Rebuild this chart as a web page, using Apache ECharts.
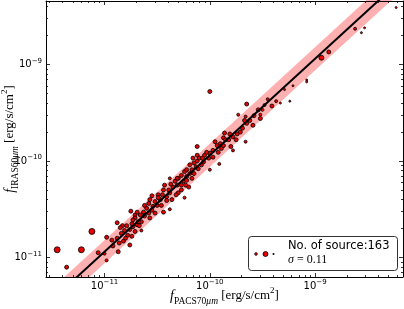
<!DOCTYPE html>
<html><head><meta charset="utf-8">
<script src="https://cdn.jsdelivr.net/npm/echarts@6/dist/echarts.min.js"></script>
<style>html,body{margin:0;padding:0;background:#fff}#c{width:404px;height:309px}</style>
</head><body><div id="c"></div>
<script>
// log10 of flux [erg/s/cm^2]
const logPACS = [
-11.45,-11.36,-11.22,-11.12,-11.06,-10.98,-11.00,-10.98,-10.88,-10.87,-10.83,-10.75,-10.71,-10.81,-10.78,-10.84,-10.82,-10.76,-10.73,-10.74,
-10.71,-10.76,-10.88,-10.71,-10.74,-10.69,-10.65,-10.66,-10.63,-10.65,-10.60,-10.62,-10.58,-10.55,-10.54,-10.58,-10.57,-10.52,-10.50,-10.49,
-10.47,-10.44,-10.43,-10.44,-10.38,-10.41,-10.39,-10.38,-10.35,-10.38,-10.31,-10.30,-10.30,-10.27,-10.25,-10.27,-10.24,-10.24,-10.22,-10.20,
-10.19,-10.17,-10.13,-10.12,-10.12,-10.12,-10.00,-9.65,-9.73,-9.54,-9.62,-9.59,-9.65,-9.66,-9.69,-9.71,-9.74,-9.78,-9.78,-9.80,
-9.82,-9.86,-9.87,-9.89,-9.90,-9.93,-9.95,-9.97,-10.00,-9.97,-10.01,-10.05,-10.06,-10.08,-10.00,-9.91,-10.11,-10.15,-10.19,-10.17,
-10.31,-10.22,-10.10,-10.16,-9.08,-9.08,-9.21,-9.29,-9.24,-9.33,-9.37,-9.45,-9.41,-9.48,-9.50,-9.66,-9.52,-9.52,-8.23,-8.53,
-8.56,-8.62,-8.87,-8.94,-10.68,-10.49,-10.46,-10.55,-10.37,-10.22,-10.03,-10.62,-10.67,-10.79,-10.80,-10.86,-10.92,-10.57,-10.52,-10.36,
-10.32,-10.23,-10.15,-9.92,-9.87,-9.75,-9.67,-10.73,-10.85,-10.93,-10.69,-10.45,-10.41,-10.33,-10.27,-10.07,-9.85,-9.81,-9.58
];
const logIRAS = [
-10.92,-11.10,-10.92,-10.73,-10.95,-10.79,-10.96,-11.03,-10.64,-10.94,-10.67,-10.52,-10.56,-10.72,-10.77,-10.75,-10.83,-10.71,-10.68,-10.78,
-10.73,-10.87,-10.80,-10.59,-10.65,-10.66,-10.63,-10.56,-10.53,-10.72,-10.49,-10.46,-10.54,-10.51,-10.47,-10.44,-10.40,-10.42,-10.46,-10.35,
-10.40,-10.30,-10.25,-10.53,-10.50,-10.37,-10.30,-10.33,-10.27,-10.18,-10.25,-10.18,-10.33,-10.15,-10.21,-10.30,-10.38,-10.11,-10.16,-10.27,
-10.13,-10.18,-10.06,-10.00,-9.94,-9.85,-9.28,-9.41,-9.52,-9.47,-9.58,-9.63,-9.61,-9.80,-9.66,-9.70,-9.72,-9.75,-9.89,-9.85,
-9.78,-9.71,-9.76,-9.87,-9.82,-9.84,-9.80,-9.89,-9.92,-9.96,-9.97,-9.94,-10.01,-10.04,-10.09,-10.03,-10.08,-10.02,-10.04,-10.09,
-10.18,-10.20,-9.97,-9.97,-9.16,-9.18,-9.22,-9.26,-9.38,-9.40,-9.38,-9.36,-9.43,-9.42,-9.47,-9.54,-9.52,-9.56,-8.41,-8.62,
-8.67,-8.63,-8.87,-8.93,-10.63,-10.38,-10.46,-10.36,-10.24,-10.09,-9.91,-10.57,-10.67,-10.67,-10.80,-10.85,-10.88,-10.59,-10.54,-10.40,
-10.35,-10.25,-10.13,-9.91,-9.84,-9.78,-9.58,-10.61,-10.69,-10.82,-10.53,-10.35,-10.41,-10.21,-10.25,-9.97,-9.78,-9.72,-9.53
];
// marker weight (relative marker size class)
const weight = [
3,2,3,3,2,2,1.5,1.5,2,2,2,2,2,2,2,2,2,2,2,2,
2,2,2,2,2,2,2,2,2,1.5,2,2,2,2,2,2,2,2,2,2,
2,2,2,2,1.5,2,2,2,2,1.5,2,2,2,2,2,2,1.5,2,2,2,
2,2,2,2,2,2,2,2,1.5,2,2,2,2,1.5,2,2,2,2,1.5,2,
2,2,2,2,2,2,2,2,2,2,2,2,2,2,1.5,1.5,2,2,2,2,
2,2,2,2,1,1,1,1,1,1,1.5,1.5,2,1.5,1.5,1.5,1.5,2,1,1,
1,1.5,2,2.5,2,2,2,2,2,2,2,2,2,2,2,2,2,2,2,2,
2,2,2,2,2,2,2,2,2,2,2,2,2,2,2,2,2,2,2
];
const tickExp = [-11, -10, -9];
const fitSlope = 1.0;
const fitIntercept = 0.06;
const sigma = 0.11;
const bandHalf = 0.12;
const nSource = 163;

const X_MIN = -11.556, X_MAX = -8.165;
const Y_MIN = -11.202, Y_MAX = -8.342;

function minors(lo, hi) {
  const out = [];
  for (let d = -13; d <= -7; d++) for (let k = 2; k <= 9; k++) {
    const v = d + Math.log10(k);
    if (v > lo && v < hi) out.push(v);
  }
  return out;
}
const SANS = '"DejaVu Sans", sans-serif';
const SERIF = '"Liberation Serif", serif';
const tickRich = {
  b: {fontSize: 10, fontFamily: SANS, color: '#000', lineHeight: 14, verticalAlign: 'middle'},
  s: {fontSize: 7, fontFamily: SANS, color: '#000', lineHeight: 7, verticalAlign: 'top'}
};
const fmt = v => '{b|10}{s|\u2212' + Math.abs(Math.round(v)) + '}';
const nameRich = {
  i: {fontFamily: SERIF, fontStyle: 'italic', fontSize: 14, lineHeight: 20, verticalAlign: 'middle', color: '#000', fill: '#000'},
  sub: {fontFamily: SERIF, fontSize: 9.5, lineHeight: 12, verticalAlign: 'bottom', color: '#000', fill: '#000'},
  subi: {fontFamily: SERIF, fontStyle: 'italic', fontSize: 9.5, lineHeight: 12, verticalAlign: 'bottom', color: '#000', fill: '#000'},
  r: {fontFamily: SERIF, fontSize: 13, lineHeight: 20, verticalAlign: 'middle', color: '#000', fill: '#000'},
  sup: {fontFamily: SERIF, fontSize: 9, lineHeight: 10, verticalAlign: 'top', color: '#000', fill: '#000'}
};
function axis(dim, position, major, extra) {
  const lo = dim === 'x' ? X_MIN : Y_MIN, hi = dim === 'x' ? X_MAX : Y_MAX;
  const vals = major ? tickExp.filter(v => v > lo && v < hi) : minors(lo, hi);
  return Object.assign({
    type: 'value', position, min: lo, max: hi, z: 10,
    axisLine: {show: major, onZero: false, lineStyle: {color: '#000', width: 1}},
    axisTick: {show: true, inside: true, length: major ? 4 : 2, customValues: vals, lineStyle: {color: '#000', width: 0.8}},
    axisLabel: {show: false},
    splitLine: {show: false}
  }, extra || {});
}
const xLabel = {show: true, customValues: tickExp, formatter: fmt, rich: tickRich, margin: 2};
const yLabel = {show: true, customValues: tickExp, formatter: fmt, rich: tickRich, margin: 4};

const scatterData = logPACS.map((x, i) => [x, logIRAS[i], weight[i]]);
const fx = [X_MIN - 0.5, X_MAX + 0.5];
const fitLine = fx.map(x => [x, fitSlope * x + fitIntercept]);
const bandHigh = fx.map(x => [x, fitSlope * x + fitIntercept + bandHalf]);
const bandLow = fx.map(x => [x, fitSlope * x + fitIntercept - bandHalf]);

const chart = echarts.init(document.getElementById('c'), null, {renderer: 'canvas'});
chart.setOption({
  animation: false,
  grid: {left: 46, right: 1, top: 1, bottom: 32, containLabel: false, outerBoundsMode: 'none'},
  xAxis: [
    axis('x', 'bottom', true, {axisLabel: xLabel, name: '{i|f}{sub|PACS70}{subi|\u03bcm}{r| [erg/s/cm}{sup|2}{r|]}',
      nameLocation: 'middle', nameGap: 9, nameMoveOverlap: false, nameTextStyle: {rich: nameRich}}),
    axis('x', 'bottom', false),
    axis('x', 'top', true),
    axis('x', 'top', false)
  ],
  yAxis: [
    axis('y', 'left', true, {axisLabel: yLabel}),
    axis('y', 'left', false),
    axis('y', 'right', true),
    axis('y', 'right', false)
  ],
  series: [
    {type: 'line', data: bandHigh, symbol: 'none', lineStyle: {opacity: 0},
      areaStyle: {color: 'rgb(255,176,176)', opacity: 1, origin: 'start'}, silent: true, z: 1},
    {type: 'line', data: bandLow, symbol: 'none', lineStyle: {opacity: 0},
      areaStyle: {color: '#fff', opacity: 1, origin: 'start'}, silent: true, z: 1},
    {type: 'scatter', data: scatterData, symbolSize: d => 2 * d[2],
      itemStyle: {color: '#e60000', borderColor: '#000', borderWidth: 0.8, opacity: 1}, z: 2},
    {type: 'line', data: fitLine, symbol: 'none', lineStyle: {color: '#000', width: 2}, z: 3}
  ],
  graphic: [
    {type: 'text', z: 50, x: 10, y: 139, rotation: Math.PI / 2,
      style: {text: '{i|f}{sub|IRAS60}{subi|\u03bcm}{r| [erg/s/cm}{sup|2}{r|]}', rich: nameRich, align: 'center', verticalAlign: 'middle'}},
    {type: 'rect', z: 100, shape: {x: 248.5, y: 236.5, width: 149, height: 34, r: 3},
      style: {fill: '#fff', stroke: '#333', lineWidth: 1}},
    {type: 'circle', z: 101, shape: {cx: 256, cy: 254, r: 1.4}, style: {fill: '#e60000', stroke: '#000', lineWidth: 0.6}},
    {type: 'circle', z: 101, shape: {cx: 265.5, cy: 254, r: 2.5}, style: {fill: '#e60000', stroke: '#000', lineWidth: 0.8}},
    {type: 'circle', z: 101, shape: {cx: 273.5, cy: 254, r: 1}, style: {fill: '#000'}},
    {type: 'text', z: 101, x: 288, y: 246.5, style: {text: 'No. of source:' + nSource, font: '11.5px ' + SANS, fill: '#000', verticalAlign: 'middle'}},
    {type: 'text', z: 101, x: 288, y: 260, style: {text: '{si|\u03c3}{r| = ' + sigma.toFixed(2) + '}', verticalAlign: 'middle',
      rich: {si: {fontFamily: SERIF, fontStyle: 'italic', fontSize: 12, fill: '#000'}, r: {fontFamily: SERIF, fontSize: 12, fill: '#000'}}}}
  ]
});
</script></body></html>
